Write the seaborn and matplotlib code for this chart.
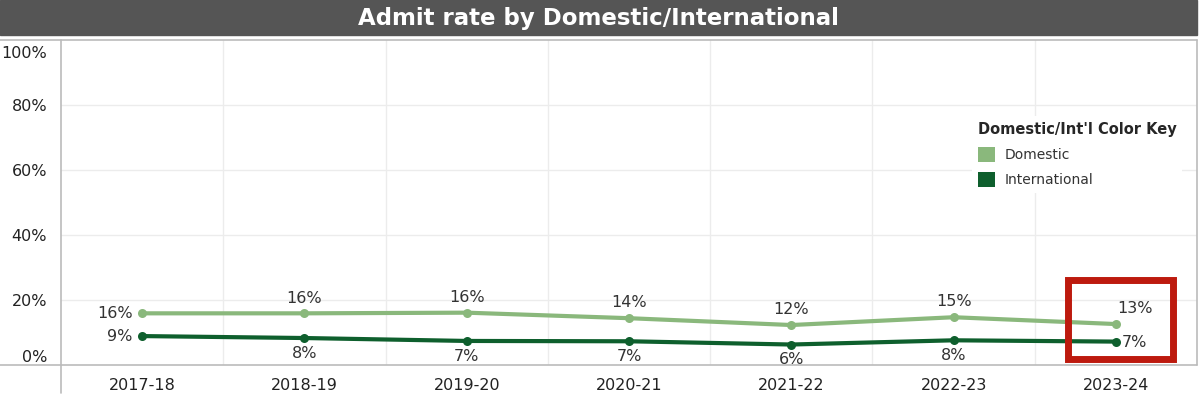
import seaborn as sns
import matplotlib.pyplot as plt
import matplotlib.transforms as mtransforms
import pandas as pd
from matplotlib.patches import Rectangle, Patch
from matplotlib.lines import Line2D

years = ['2017-18', '2018-19', '2019-20', '2020-21', '2021-22', '2022-23', '2023-24']
domestic = [15.9, 15.9, 16.1, 14.4, 12.3, 14.7, 12.6]
international = [8.9, 8.3, 7.4, 7.3, 6.3, 7.6, 7.2]
groups = ['Domestic', 'International']
colors = {'Domestic': '#8ab87c', 'International': '#0e5f2d'}

df = pd.DataFrame({
    'year': years * 2,
    'rate': domestic + international,
    'group': ['Domestic'] * len(years) + ['International'] * len(years),
})

sns.set_style('white')
plt.rcParams['font.family'] = ['DejaVu Sans']

W, H = 1201, 397
fig = plt.figure(figsize=(W / 100, H / 100), dpi=100)
# plot area in pixels: x 61..1197, y 40..365
ax = fig.add_axes([61 / W, (H - 365) / H, (1197 - 61) / W, (365 - 40) / H])

sns.lineplot(data=df, x='year', y='rate', hue='group', palette=colors, marker='o',
             markersize=6.5, markeredgewidth=0, linewidth=3, sort=False, ax=ax, legend=False)

ax.set_xlim(-0.5, len(years) - 0.5)
ax.set_ylim(0, 100)
ax.set_xlabel('')
ax.set_ylabel('')
for s in ax.spines.values():
    s.set_visible(False)

# grid
ax.set_yticks([0, 20, 40, 60, 80, 100])
ax.set_yticklabels(['0%', '20%', '40%', '60%', '80%', '100%'])
for y in [20, 40, 60, 80]:
    ax.axhline(y, color='#ececec', lw=1, zorder=0)
for i in range(1, len(years)):
    ax.axvline(i - 0.5, color='#ececec', lw=1, zorder=0)
ax.set_xticks(range(len(years)))
ax.set_xticklabels(years)
ax.set_xticks([i - 0.5 for i in range(1, len(years))], minor=True)
ax.tick_params(axis='x', which='major', length=0, pad=9, labelsize=11.5, labelcolor='#222222')
ax.tick_params(axis='x', which='minor', length=6, color='#bbbbbb', width=1)
ax.tick_params(axis='y', length=6, color='#dddddd', width=1, pad=4, labelsize=11.5,
               labelcolor='#222222')
yticks = ax.yaxis.get_major_ticks()
yticks[0].label1.set_verticalalignment('bottom')
yticks[-1].label1.set_verticalalignment('top')
shift = mtransforms.ScaledTranslation(0, -4 / 72, fig.dpi_scale_trans)
yticks[-1].label1.set_transform(yticks[-1].label1.get_transform() + shift)

# frame lines (figure pixels)
def px_line(x0, y0, x1, y1, c='#bbbbbb'):
    fig.add_artist(Line2D([x0 / W, x1 / W], [1 - y0 / H, 1 - y1 / H], color=c, lw=1.2))

px_line(0, 40, 1197, 40)
px_line(0, 365, 1197, 365)
px_line(61, 40, 61, 393)
px_line(1197, 40, 1197, 365)

# title bar
fig.add_artist(Rectangle((0, 1 - 35 / H), 1197 / W, 35 / H, transform=fig.transFigure,
                         color='#555555', zorder=0))
fig.text(598 / W, 1 - 18 / H, 'Admit rate by Domestic/International', color='white',
         fontsize=16.5, fontweight='bold', ha='center', va='center')

# data labels
n = len(years)
lab = dict(textcoords='offset points', va='center', fontsize=11.5, color='#333333')
for i, v in enumerate(domestic):
    if i == 0:
        ax.annotate(f'{round(v)}%', (i, v), xytext=(-7, 0), ha='right', **lab)
    elif i == n - 1:
        ax.annotate(f'{round(v)}%', (i, v), xytext=(1, 11), ha='left', **lab)
    else:
        ax.annotate(f'{round(v)}%', (i, v), xytext=(0, 11), ha='center', **lab)
for i, v in enumerate(international):
    if i == 0:
        ax.annotate(f'{round(v)}%', (i, v), xytext=(-7, 0), ha='right', **lab)
    elif i == n - 1:
        ax.annotate(f'{round(v)}%', (i, v), xytext=(4, -1), ha='left', **lab)
    else:
        ax.annotate(f'{round(v)}%', (i, v), xytext=(0, -11), ha='center', **lab)

# highlight box around the latest year
ax.add_patch(Rectangle((5.708, 2.0), 6.355 - 5.708, 26.3 - 2.0, fill=False,
                       edgecolor='#bd1a0e', lw=5, zorder=5, clip_on=False))

# legend
handles = [Patch(facecolor=colors[g], edgecolor='none', label=g) for g in groups]
leg = ax.legend(handles=handles, title="Domestic/Int'l Color Key", loc='upper left',
                bbox_to_anchor=((972 - 61) / (1197 - 61), (365 - 116) / 325),
                frameon=True, fontsize=10, title_fontsize=10.5, alignment='left',
                handlelength=1.25, handleheight=1.25, handletextpad=0.7,
                labelspacing=0.75, borderpad=0.4, borderaxespad=0)
leg.get_frame().set_facecolor('white')
leg.get_frame().set_edgecolor('none')
leg.get_frame().set_alpha(1)
leg.get_title().set_fontweight('bold')
for t in leg.get_texts():
    t.set_color('#333333')

fig.savefig('out.png', dpi=100)
